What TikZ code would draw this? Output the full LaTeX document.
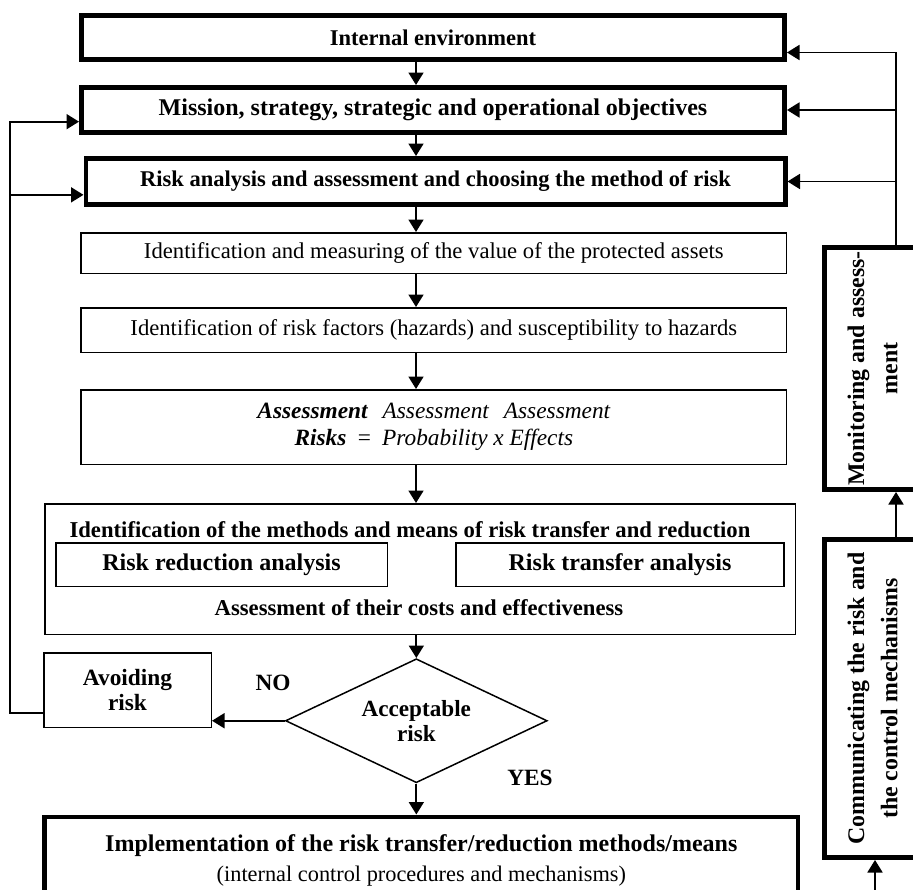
\documentclass[tikz,border=0pt]{standalone}
\usepackage{fontspec}
\setmainfont{Liberation Serif}
\usetikzlibrary{positioning}
\usetikzlibrary{shapes.geometric}
\usetikzlibrary{arrows.meta}

\begin{document}
\begin{tikzpicture}[x=0.6pt,y=-0.6pt]
    \tikzset{thickbox/.style={draw,line width=2.8pt,minimum width=422pt,font=\fontsize{13.5}{15}\selectfont\bfseries}}
    \tikzset{thinbox/.style={draw,line width=0.9pt,minimum width=423.3pt,font=\fontsize{13.6}{15}\selectfont}}
    \tikzset{subbox/.style={draw,line width=0.9pt,minimum width=197pt,minimum height=26.1pt,font=\fontsize{14.4}{16}\selectfont\bfseries}}
    \tikzset{sidebox/.style={draw,line width=2.8pt,minimum width=59.6pt,inner sep=0pt,font=\fontsize{14.3}{20}\selectfont\bfseries}}
    \tikzset{decision/.style={diamond,draw,line width=0.9pt,aspect=2.1,minimum width=157pt,minimum height=74.4pt,inner sep=0pt,align=center,font=\fontsize{13.9}{15}\selectfont\bfseries}}
    \tikzset{tag/.style={font=\fontsize{14}{16}\selectfont\bfseries}}
    \tikzset{flow/.style={-{Triangle[length=7.5pt,width=9pt]},line width=1.1pt}}

    \useasboundingbox (0,0) rectangle (913,890);
    \clip (0,0) rectangle (913,890);

    \node[thickbox,minimum height=26.6pt] (ie) at (433,37.5) {Internal environment};
    \node[thickbox,minimum height=27.2pt,below=13.8pt of ie,font=\fontsize{14.4}{16}\selectfont\bfseries] (ms) {Mission, strategy, strategic and operational objectives};
    \node[thickbox,minimum height=27.8pt,minimum width=419.6pt,below=12.6pt of ms,xshift=1.5pt] (ra) {Risk analysis and assessment and choosing the method of risk};
    \node[thinbox,minimum height=24.3pt,below=15pt of ra,xshift=-1pt] (im) {Identification and measuring of the value of the protected assets};
    \node[thinbox,minimum height=26.7pt,below=19.8pt of im] (rf) {Identification of risk factors (hazards) and susceptibility to hazards};
    \node[thinbox,minimum height=44.7pt,below=21.6pt of rf,align=center,font=\fontsize{14}{16}\selectfont\itshape] (as)
        {\textbf{Assessment}\hspace{9pt}Assessment\hspace{9pt}Assessment\\\textbf{Risks}\hspace{6pt}=\hspace{6pt}Probability x Effects};
    \node[thinbox,minimum width=450.3pt,minimum height=78.3pt,below=22.8pt of as,xshift=-8.1pt] (mm) {};
    \node[font=\fontsize{13.6}{15}\selectfont\bfseries] (mmt) at (410,530) {Identification of the methods and means of risk transfer and reduction};
    \node[subbox,minimum width=198.9pt] (rr) at (221.5,564.5) {Risk reduction analysis};
    \node[subbox] (rt) at (620,564.5) {Risk transfer analysis};
    \node[font=\fontsize{13.6}{15}\selectfont\bfseries] (mmb) at (419,608) {Assessment of their costs and effectiveness};
    \node[decision,below=13.8pt of mm,xshift=-2.4pt] (ac) {Acceptable\\risk};
    \node[thickbox,minimum width=452pt,minimum height=52.4pt,below=18.6pt of ac,xshift=3pt,align=center,font=\fontsize{13.4}{18}\selectfont] (ip)
        {{\fontsize{14.4}{18}\selectfont\bfseries Implementation of the risk transfer/reduction methods/means}\\(internal control procedures and mechanisms)};
    \node[thinbox,minimum width=100.5pt,minimum height=44.7pt,align=center,font=\fontsize{14}{15}\selectfont\bfseries] (av) at (127.5,690) {Avoiding\\risk};
    \node[tag] (no) at (273,683) {NO};
    \node[tag] (yes) at (530,778) {YES};

    \node[sidebox,minimum height=145.4pt] (mo) at (874,368.5)
        {\rotatebox{90}{\begin{tabular}{@{}c@{}}Monitoring and assess-\\ment\end{tabular}}};
    \node[sidebox,minimum height=191pt] (co) at (874,698.5)
        {\rotatebox{90}{\begin{tabular}{@{}c@{}}Communicating the risk and\\the control mechanisms\end{tabular}}};

    \coordinate (axis) at (416,0);
    \draw[flow] (ie.south -| axis) -- (ms.north -| axis);
    \draw[flow] (ms.south -| axis) -- (ra.north -| axis);
    \draw[flow] (ra.south -| axis) -- (im.north -| axis);
    \draw[flow] (im.south -| axis) -- (rf.north -| axis);
    \draw[flow] (rf.south -| axis) -- (as.north -| axis);
    \draw[flow] (as.south -| axis) -- (mm.north -| axis);
    \draw[flow] (mm.south -| ac) -- (ac.north);
    \draw[flow] (ac.south) -- (ac.south |- ip.north);
    \draw[flow] (ac.west) -- (ac.west -| av.east);

    \coordinate (lx) at (10,0);
    \coordinate (msin) at ([yshift=-7pt]ms.west);
    \coordinate (rain) at ([yshift=-8pt]ra.west);
    \coordinate (avout) at ([yshift=-14pt]av.west);
    \draw[flow] (avout) -| (lx |- msin) -- (msin);
    \draw[flow] (lx |- rain) -- (rain);

    \coordinate (rx) at (896,0);
    \coordinate (iein) at ([yshift=-9pt]ie.east);
    \draw[flow] (mo.north -| rx) -- (iein -| rx) -- (iein);
    \draw[flow] (ms.east -| rx) -- (ms.east);
    \draw[flow] (ra.east -| rx) -- (ra.east);
    \draw[flow] (co.north -| rx) -- (mo.south -| rx);
    \coordinate (cin) at (875,900);
    \draw[flow] (cin) -- (cin |- co.south);
\end{tikzpicture}
\end{document}
